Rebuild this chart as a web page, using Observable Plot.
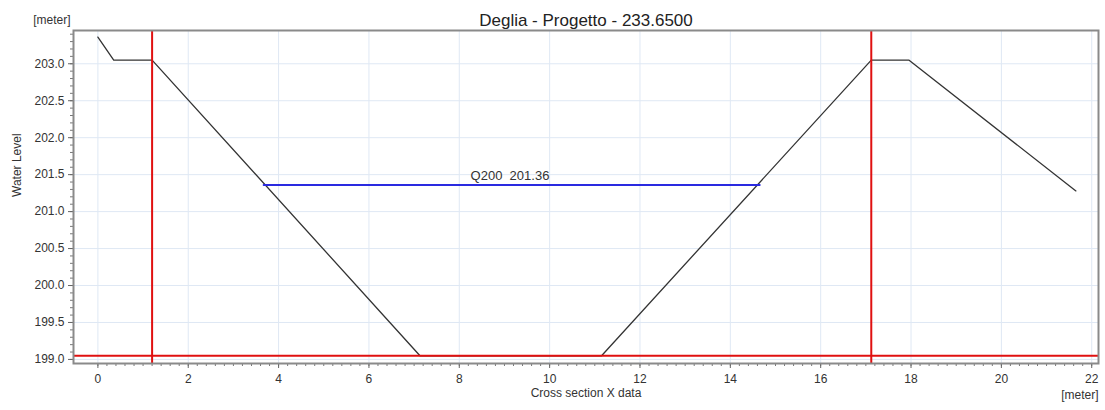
<!DOCTYPE html>
<html>
<head>
<meta charset="utf-8">
<script src="https://cdn.jsdelivr.net/npm/d3@7"></script>
<script src="https://cdn.jsdelivr.net/npm/@observablehq/plot@0.6"></script>
<style>
  html, body { margin: 0; padding: 0; background: #ffffff; }
  #chart svg { display: block; }
</style>
</head>
<body>
<div id="chart"></div>
<script>
// Terrain cross-section (x in meters, water level in meters)
const terrainX = [0, 0.35, 1.2, 7.13, 11.15, 17.12, 17.95, 21.65];
const terrainY = [203.36, 203.05, 203.05, 199.05, 199.05, 203.05, 203.05, 201.28];

// Q200 water surface
const waterX = [3.67, 14.65];
const waterLevel = 201.36;
const waterLabel = "Q200  201.36";
const waterLabelX = 8.25;

// Red reference lines
const bankX = [1.2, 17.12];
const bedY = [199.05];

// Ticks
const xTicks = [0, 2, 4, 6, 8, 10, 12, 14, 16, 18, 20, 22];
const xMinor = d3.range(0, 22.01, 0.2).map(v => +v.toFixed(2));
const yTicks = [199.0, 199.5, 200.0, 200.5, 201.0, 201.5, 202.0, 202.5, 203.0];
const yMinor = d3.range(199.0, 203.41, 0.1).map(v => +v.toFixed(2));

const titleText = "Deglia - Progetto - 233.6500";
const yUnit = "[meter]";
const yTitle = "Water Level";
const xTitle = "Cross section X data";
const xUnit = "[meter]";

const terrain = terrainX.map((x, i) => ({x, y: terrainY[i]}));
const water = waterX.map(x => ({x, y: waterLevel}));

const chart = Plot.plot({
  width: 1105,
  height: 410,
  marginLeft: 73,
  marginRight: 7,
  marginTop: 30,
  marginBottom: 47,
  style: {fontFamily: "'Liberation Sans', Arial, sans-serif", fontSize: "12px", color: "#333", background: "#ffffff"},
  x: {domain: [-0.54, 22.15], label: null},
  y: {domain: [198.945, 203.45], label: null},
  marks: [
    Plot.ruleX(xTicks, {stroke: "#dfe8f4", strokeWidth: 1}),
    Plot.ruleY(yTicks, {stroke: "#dfe8f4", strokeWidth: 1}),
    Plot.axisX({ticks: xMinor, tickSize: 3, tickFormat: () => "", stroke: "#777"}),
    Plot.axisX({ticks: xTicks, tickSize: 5, tickPadding: 6, tickFormat: d => String(d), stroke: "#666", fill: "#333", fontSize: 12}),
    Plot.axisY({ticks: yMinor, tickSize: 3, tickFormat: () => "", stroke: "#777"}),
    Plot.axisY({ticks: yTicks, tickSize: 5, tickPadding: 4, tickFormat: d3.format(".1f"), stroke: "#666", fill: "#333", fontSize: 12}),
    Plot.line(terrain, {x: "x", y: "y", stroke: "#333", strokeWidth: 1.3}),
    Plot.line(water, {x: "x", y: "y", stroke: "#2a2ae0", strokeWidth: 2}),
    Plot.text([waterLabel], {x: waterLabelX, y: waterLevel, textAnchor: "start", dy: -9, fontSize: 13, fill: "#333"}),
    Plot.ruleY(bedY, {stroke: "#e01010", strokeWidth: 2}),
    Plot.ruleX(bankX, {stroke: "#e01010", strokeWidth: 2}),
    Plot.frame({stroke: "#8a8a8a", strokeWidth: 2}),
    Plot.text([titleText], {frameAnchor: "top", dy: -17, fontSize: 17, fill: "#222"}),
    Plot.text([yUnit], {frameAnchor: "top-left", textAnchor: "end", dx: -3, dy: -15, fontSize: 12, fill: "#333"}),
    Plot.text([yTitle], {frameAnchor: "left", rotate: -90, dx: -56, fontSize: 12, fill: "#333"}),
    Plot.text([xTitle], {frameAnchor: "bottom", dy: 33, fontSize: 12, fill: "#333"}),
    Plot.text([xUnit], {frameAnchor: "bottom-right", textAnchor: "end", dy: 35, fontSize: 12, fill: "#333"})
  ]
});
document.getElementById("chart").appendChild(chart);
</script>
</body>
</html>
